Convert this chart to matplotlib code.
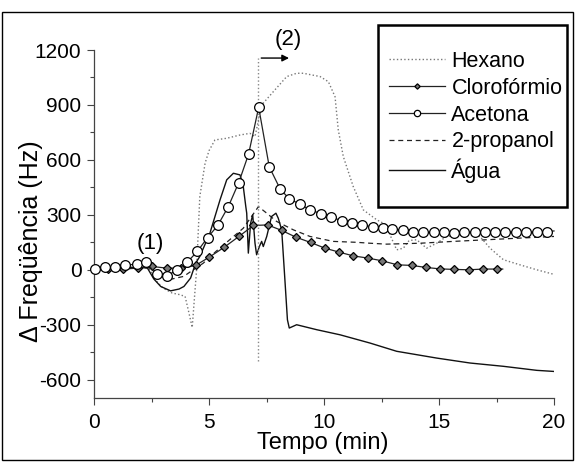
import matplotlib
matplotlib.use("Agg")
import matplotlib.pyplot as plt
from matplotlib.patches import Rectangle

plt.rcParams['font.family'] = ['Liberation Sans', 'DejaVu Sans']
plt.rcParams['axes.unicode_minus'] = False

# ---- data ----
hex_t = [0, 1, 2, 2.4, 2.7, 3.0, 3.4, 3.7, 3.96, 4.1, 4.27, 4.46, 4.6, 4.83, 5.0, 5.26, 5.77,
         6.35, 6.78, 7.0, 7.29, 7.8, 8.38, 8.81, 9.1, 9.83, 10.19, 10.48, 10.62, 10.84, 11.27,
         11.71, 12.29, 12.72, 12.9, 13.16, 13.45, 13.7, 14.03, 14.46, 14.9, 15.33, 16.2, 16.78,
         17.22, 17.8, 18.52, 19.25, 20]
hex_v = [10, 15, 15, 5, -60, -100, -127, -135, -145, -220, -315, 0, 400, 582, 650, 709, 718,
         736, 745, 727, 900, 973, 1055, 1073, 1073, 1055, 1027, 945, 764, 618, 455,
         327, 273, 245, 182, 109, 118, 160, 164, 118, 145, 182, 191, 182,
         118, 55, 27, 0, -25]

clo_t = [0, 0.62, 1.27, 1.9, 2.54, 3.16, 3.78, 4.42, 5.01, 5.65, 6.3, 6.93, 7.55, 8.16, 8.78,
         9.42, 10.04, 10.67, 11.27, 11.9, 12.53, 13.19, 13.81, 14.42, 15.04, 15.67, 16.3,
         16.93, 17.53, 17.77]
clo_v = [5, 4, 4, 9, 18, 9, 9, 24, 69, 122, 182, 242, 245, 215, 178,
         149, 118, 96, 76, 64, 49, 27, 24, 13, 5, 2, 0,
         4, 4, 4]

ace_t = [0.04, 0.48, 0.91, 1.35, 1.86, 2.26, 2.72, 3.16, 3.59, 4.06, 4.49, 4.94, 5.38, 5.84,
         6.29, 6.72, 7.16, 7.62, 8.09, 8.49, 8.96, 9.39, 9.86, 10.29, 10.77, 11.2, 11.64,
         12.12, 12.55, 12.97, 13.45, 13.88, 14.32, 14.8, 15.2, 15.67, 16.1, 16.57, 17.0,
         17.43, 17.87, 18.33, 18.77, 19.25, 19.68, 20.0]
ace_v = [4, 13, 13, 25, 31, 40, -25, -33, -3, 42, 100, 176, 242, 345,
         475, 631, 887, 562, 442, 387, 358, 327, 307, 287, 269, 255, 242,
         236, 230, 222, 216, 209, 204, 204, 204, 202, 204, 205, 205,
         205, 205, 205, 205, 205, 209, 212]

pro_t = [0, 1, 2, 2.5, 2.8, 3.1, 3.4, 3.9, 4.2, 4.5, 4.75, 5.3, 5.9, 6.49, 6.9, 7.15, 7.51,
         7.94, 8.67, 9.39, 10.4, 11.42, 12.0, 12.72, 14.17, 15.62, 17.07, 18.52, 20]
pro_v = [5, 10, 12, 10, -20, -40, -50, -36, -10, 15, 36, 100, 164, 227, 300, 345, 309,
         264, 218, 182, 155, 150, 145, 140, 145, 155, 164, 173, 182]

agu_t = [0, 1, 2, 2.32, 2.6, 2.9, 3.33, 3.7, 3.91, 4.2, 4.42, 4.6, 5.04, 5.48, 5.77, 6.06,
         6.35, 6.49, 6.6, 6.64, 6.71, 6.81, 6.9, 7.0, 7.07, 7.19, 7.29, 7.36, 7.51, 7.72,
         7.91, 8.01, 8.16, 8.3, 8.41, 8.49, 8.81, 9.68, 10.7, 12.0, 13.16, 14.9, 16.35,
         17.8, 19.25, 20]
agu_v = [5, 10, 12, 10, -50, -91, -115, -105, -91, -45, 36, 73, 200, 382, 491, 527,
         518, 455, 345, 309, 91, 255, 300, 145, 82, 127, 155, 127, 182, 291,
         309, 282, 218, -55, -273, -318, -300, -327, -355, -400, -445, -482, -509,
         -527, -549, -555]

event_t = 7.15
event_v = [-500, 1156]
arrow_end_t = 8.6

x_ticks = [0, 5, 10, 15, 20]
y_ticks = [-600, -300, 0, 300, 600, 900, 1200]

# ---- figure ----
fig = plt.figure(figsize=(5.75, 4.62), dpi=100)
ax = fig.add_axes([94/575, 1-398/462, 460/575, 348/462])

ax.plot(hex_t, hex_v, color='#777777', ls=':', lw=1.0, label='Hexano')
ax.plot(pro_t, pro_v, color='#222222', ls=(0, (4, 3)), lw=0.9, label='2-propanol')
ax.plot(agu_t, agu_v, color='#111111', ls='-', lw=1.0, label='Água')
ax.plot(clo_t, clo_v, color='#222222', lw=0.9, marker='D', ms=4.2, mfc='#777777',
        mec='black', mew=0.9, markevery=list(range(len(clo_t) - 1)), label='Clorofórmio')
ax.plot(ace_t, ace_v, color='#222222', lw=0.9, marker='o', ms=7, mfc='white',
        mec='black', mew=0.9, markevery=list(range(len(ace_t) - 1)), label='Acetona',
        clip_on=False, zorder=5)

# event line and arrow
ax.plot([event_t, event_t], event_v, color='#888888', ls=':', lw=1.0, clip_on=False)
ax.annotate('', xy=(arrow_end_t, event_v[1]), xytext=(event_t, event_v[1]),
            arrowprops=dict(arrowstyle='-|>', color='black', lw=1.0, mutation_scale=10),
            annotation_clip=False)
ax.text(8.43, 1255, '(2)', fontsize=16, ha='center', va='center', clip_on=False)
ax.text(2.46, 145, '(1)', fontsize=16, ha='center', va='center')

ax.set_xlim(0, 20)
ax.set_ylim(-700, 1200)
ax.set_xticks(x_ticks)
ax.set_yticks(y_ticks)
ax.set_xticks([2.5, 7.5, 12.5, 17.5], minor=True)
ax.set_yticks([-450, -150, 150, 450, 750, 1050], minor=True)
ax.tick_params(which='major', length=5, width=0.8, color='#444444', labelsize=15, pad=4)
ax.tick_params(axis='x', which='major', pad=6)
ax.tick_params(which='minor', length=3, width=0.8, color='#444444')
for s in ['top', 'right']:
    ax.spines[s].set_visible(False)
for s in ['left', 'bottom']:
    ax.spines[s].set_color('#444444')
    ax.spines[s].set_linewidth(0.9)

ax.set_xlabel('Tempo (min)', fontsize=17)
ax.xaxis.set_label_coords(0.497, -0.097)
ax.xaxis.label.set_va('top')
ax.set_ylabel('Δ Freqüência (Hz)', fontsize=18)
ax.yaxis.set_label_coords(-0.137, 0.45)
ax.yaxis.label.set_va('center')

# legend
h, l = ax.get_legend_handles_labels()
order = ['Hexano', 'Clorofórmio', 'Acetona', '2-propanol', 'Água']
hh = [h[l.index(o)] for o in order]
leg = fig.legend(hh, order, loc='upper left', bbox_to_anchor=(389/575, 1-51/462),
                 frameon=False, fontsize=15.5, handlelength=2.6, handletextpad=0.3,
                 labelspacing=0.27, markerscale=0.65, borderpad=0, borderaxespad=0)

fig.patches.append(Rectangle((378/575, 1-207/462), 189/575, 182/462, transform=fig.transFigure,
                             fill=False, edgecolor='black', lw=1.8))
fig.patches.append(Rectangle((2/575, 1-460/462), 571/575, 448/462, transform=fig.transFigure,
                             fill=False, edgecolor='black', lw=1.0))

fig.savefig('out.png', dpi=100)
